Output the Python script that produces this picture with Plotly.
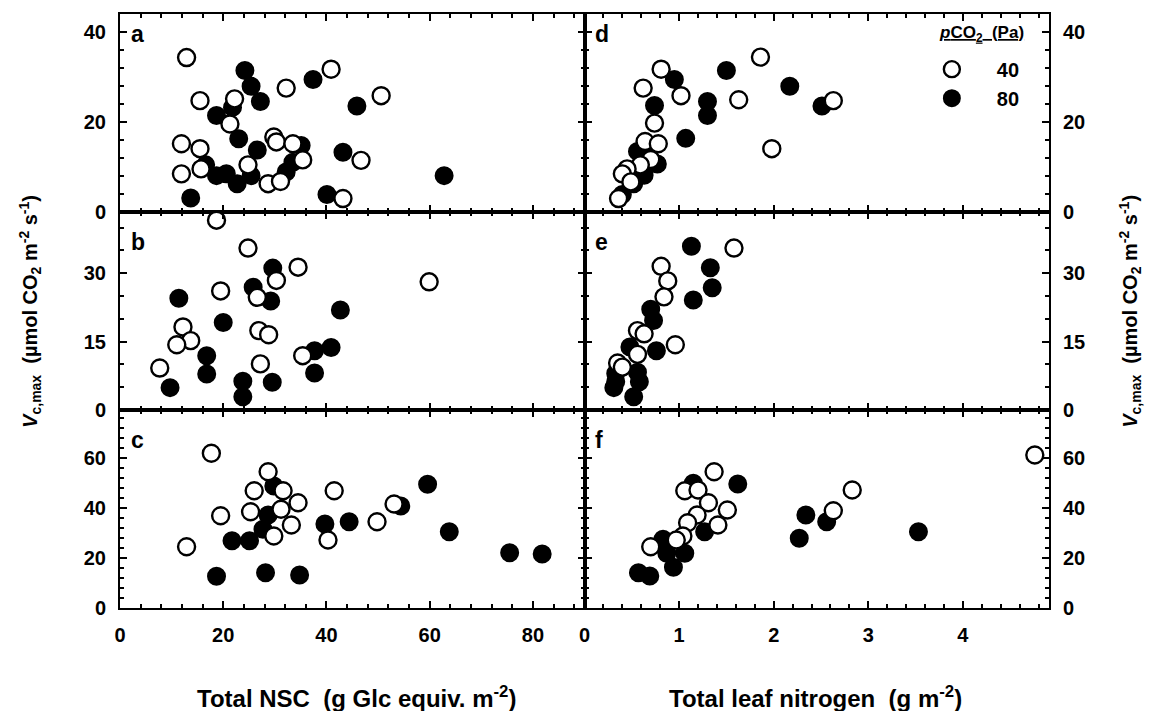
import plotly.graph_objects as go
from plotly.subplots import make_subplots

FONT = "Liberation Sans"

# ---------------- data ----------------
# Panel a: total NSC vs Vc,max
a_open_x = [12.9, 15.5, 22.2, 21.3, 32.2, 40.9, 50.6, 11.9, 15.5, 11.9, 15.7, 24.8, 29.8, 30.3, 33.5, 35.4, 28.7, 31.1, 46.7, 43.2]
a_open_y = [34.4, 24.8, 25.2, 19.6, 27.6, 31.8, 25.9, 15.2, 14.1, 8.5, 9.6, 10.5, 16.7, 15.6, 15.2, 11.6, 6.3, 6.8, 11.5, 3.0]
a_fill_x = [24.2, 25.4, 27.2, 37.4, 45.9, 18.7, 21.8, 23.0, 26.6, 43.2, 16.6, 18.7, 20.6, 22.7, 25.4, 32.2, 33.5, 13.7, 40.1, 62.8, 35.1]
a_fill_y = [31.5, 28.0, 24.6, 29.5, 23.6, 21.5, 23.3, 16.3, 13.8, 13.3, 10.5, 8.1, 8.5, 6.3, 8.1, 8.9, 11.1, 3.1, 3.9, 8.1, 14.8]

# Panel b
b_open_x = [18.7, 24.8, 34.5, 30.3, 19.5, 26.6, 12.2, 13.7, 11.0, 26.9, 28.8, 35.4, 27.2, 7.7, 59.9]
b_open_y = [41.6, 35.5, 31.3, 28.4, 26.1, 24.7, 18.2, 15.2, 14.3, 17.4, 16.5, 11.9, 10.1, 9.2, 28.1]
b_fill_x = [29.6, 25.8, 29.2, 11.4, 20.0, 16.8, 16.8, 9.7, 23.8, 23.8, 29.5, 37.7, 40.9, 37.7, 42.7]
b_fill_y = [31.1, 26.9, 23.9, 24.5, 19.2, 11.9, 7.9, 4.9, 6.3, 2.9, 6.1, 13.0, 13.7, 8.1, 21.9]

# Panel c
c_open_x = [17.7, 28.7, 26.0, 31.6, 41.5, 34.5, 31.2, 25.3, 19.5, 33.2, 29.8, 40.3, 49.8, 53.1, 12.9]
c_open_y = [61.9, 54.5, 46.9, 46.9, 46.9, 42.1, 39.5, 38.5, 36.9, 33.2, 28.8, 27.2, 34.5, 41.6, 24.5]
c_fill_x = [29.8, 54.4, 28.7, 27.7, 21.7, 25.1, 39.7, 44.4, 18.7, 28.2, 34.8, 59.6, 63.8, 75.5, 81.8]
c_fill_y = [48.8, 40.8, 37.2, 31.5, 26.9, 26.9, 33.6, 34.5, 12.7, 14.1, 13.2, 49.5, 30.5, 22.1, 21.6]

# Panel d: total leaf nitrogen vs Vc,max
d_open_x = [1.86, 0.81, 0.62, 1.02, 1.63, 2.63, 0.74, 0.64, 0.78, 1.98, 0.70, 0.59, 0.45, 0.40, 0.49, 0.36]
d_open_y = [34.5, 31.8, 27.6, 25.9, 25.0, 24.8, 19.8, 15.7, 15.2, 14.1, 11.7, 10.5, 9.6, 8.5, 6.7, 3.0]
d_fill_x = [1.50, 0.95, 2.17, 1.30, 1.30, 2.51, 0.74, 1.07, 0.56, 0.77, 0.63, 0.52, 0.40, 0.66, 0.55]
d_fill_y = [31.5, 29.5, 28.0, 24.6, 21.5, 23.6, 23.7, 16.4, 13.5, 10.7, 8.2, 6.3, 3.9, 14.5, 8.9]

# Panel e
e_open_x = [1.58, 0.81, 0.88, 0.84, 0.96, 0.56, 0.63, 0.56, 0.35, 0.40]
e_open_y = [35.5, 31.5, 28.3, 24.8, 14.3, 17.4, 16.7, 12.2, 10.3, 9.4]
e_fill_x = [1.13, 1.33, 1.35, 1.15, 0.70, 0.73, 0.48, 0.76, 0.33, 0.31, 0.56, 0.58, 0.52, 0.33]
e_fill_y = [35.9, 31.2, 26.8, 24.1, 22.1, 19.6, 13.8, 13.0, 8.0, 4.9, 8.3, 6.2, 2.9, 6.2]

# Panel f
f_open_x = [1.37, 1.06, 1.20, 1.31, 1.51, 1.19, 1.09, 1.41, 1.04, 0.97, 0.70, 2.83, 2.63, 4.76]
f_open_y = [54.5, 46.9, 47.2, 42.1, 39.2, 37.2, 34.1, 33.2, 28.8, 27.2, 24.5, 47.2, 38.9, 61.2]
f_fill_x = [1.15, 1.62, 2.34, 2.56, 2.27, 1.27, 0.83, 0.87, 1.06, 0.94, 0.57, 0.69, 3.53]
f_fill_y = [49.9, 49.6, 37.2, 34.5, 27.9, 30.5, 27.5, 21.9, 21.9, 16.3, 14.1, 12.8, 30.5]

panel_letters = ["a", "d", "b", "e", "c", "f"]
x_title_left = "Total NSC  (g Glc equiv. m<sup>-2</sup>)"
x_title_right = "Total leaf nitrogen  (g m<sup>-2</sup>)"
y_title = "<i>V</i><sub>c,max</sub>  (µmol CO<sub>2</sub> m<sup>-2</sup> s<sup>-1</sup>)"
legend_title = "<u><i>p</i>CO<sub>2</sub>  (Pa)</u>"
series_names = ["40", "80"]

# ---------------- figure ----------------
fig = make_subplots(rows=3, cols=2, horizontal_spacing=0, vertical_spacing=0)

panels = [
    (1, 1, a_open_x, a_open_y, a_fill_x, a_fill_y),
    (1, 2, d_open_x, d_open_y, d_fill_x, d_fill_y),
    (2, 1, b_open_x, b_open_y, b_fill_x, b_fill_y),
    (2, 2, e_open_x, e_open_y, e_fill_x, e_fill_y),
    (3, 1, c_open_x, c_open_y, c_fill_x, c_fill_y),
    (3, 2, f_open_x, f_open_y, f_fill_x, f_fill_y),
]

MS = 17
for r, c, ox, oy, fx, fy in panels:
    show = (r == 1 and c == 2)
    fig.add_trace(go.Scatter(x=fx, y=fy, mode="markers", name=series_names[1],
                             showlegend=show, legendrank=2,
                             marker=dict(size=MS, color="black", symbol="circle",
                                         line=dict(color="black", width=2))),
                  row=r, col=c)
    fig.add_trace(go.Scatter(x=ox, y=oy, mode="markers", name=series_names[0],
                             showlegend=show, legendrank=1,
                             marker=dict(size=MS, color="white", symbol="circle",
                                         line=dict(color="black", width=2.4))),
                  row=r, col=c)

tickfont = dict(family=FONT, size=20, color="black", weight="bold")
common = dict(showline=True, linecolor="black", linewidth=2, mirror="ticks",
              ticks="inside", ticklen=7, tickwidth=2, tickcolor="black",
              showgrid=False, zeroline=False, tickfont=tickfont)

y_ranges = {1: [0, 44.1], 2: [0, 43.4], 3: [0, 79.2]}
y_ticks = {1: [0, 20, 40], 2: [0, 15, 30], 3: [0, 20, 40, 60]}
y_minor = {1: 4, 2: 5, 3: 4}

for r in (1, 2, 3):
    for c in (1, 2):
        xr = [0, 90] if c == 1 else [0, 4.91]
        xt = [0, 20, 40, 60, 80] if c == 1 else [0, 1, 2, 3, 4]
        xm = 4 if c == 1 else 0.2
        fig.update_xaxes(range=xr, tickvals=xt, showticklabels=(r == 3),
                         ticklabelstandoff=8,
                         minor=dict(ticks="inside", ticklen=4, tickwidth=1.5,
                                    tickcolor="black", dtick=xm, tick0=0),
                         row=r, col=c, **common)
        fig.update_yaxes(range=y_ranges[r], tickvals=y_ticks[r],
                         side=("left" if c == 1 else "right"),
                         ticklabelstandoff=8,
                         minor=dict(ticks="inside", ticklen=4, tickwidth=1.5,
                                    tickcolor="black", dtick=y_minor[r], tick0=0),
                         row=r, col=c, **common)

# panel letters
letter_pos = {1: 0.90, 2: 0.85, 3: 0.85}
axis_ids = [("x", "y"), ("x2", "y2"), ("x3", "y3"), ("x4", "y4"), ("x5", "y5"), ("x6", "y6")]
for i, (xa, ya) in enumerate(axis_ids):
    r = i // 2 + 1
    fig.add_annotation(text=panel_letters[i], xref=xa + " domain", yref=ya + " domain",
                       x=0.02 if i % 2 == 0 else 0.018, y=letter_pos[r],
                       xanchor="left", yanchor="middle", showarrow=False,
                       font=dict(family=FONT, size=23, color="black", weight="bold"))

# axis titles
xtitle_font = dict(family=FONT, size=24, color="black", weight="bold")
title_font = dict(family=FONT, size=20, color="black", weight="bold")
fig.add_annotation(text=x_title_left, xref="paper", yref="paper", x=0.2545, y=-0.149,
                   xanchor="center", yanchor="middle", showarrow=False, font=xtitle_font)
fig.add_annotation(text=x_title_right, xref="paper", yref="paper", x=0.7490, y=-0.149,
                   xanchor="center", yanchor="middle", showarrow=False, font=xtitle_font)
fig.add_annotation(text=y_title, xref="paper", yref="paper", x=-0.097, y=0.50,
                   textangle=-90, xanchor="center", yanchor="middle", showarrow=False,
                   font=title_font)
fig.add_annotation(text=y_title, xref="paper", yref="paper", x=1.087, y=0.50,
                   textangle=-90, xanchor="center", yanchor="middle", showarrow=False,
                   font=title_font)

# legend heading (pCO2)
fig.add_annotation(text=legend_title, xref="paper", yref="paper", x=0.975, y=0.967,
                   xanchor="right", yanchor="middle", showarrow=False,
                   font=dict(family=FONT, size=17, color="black", weight="bold"))

fig.update_layout(
    width=1151, height=703,
    margin=dict(l=112, r=110, t=4, b=103),
    paper_bgcolor="white", plot_bgcolor="white",
    font=dict(family=FONT, color="black"),
    legend=dict(x=0.847, y=0.94, xanchor="left", yanchor="top",
                bgcolor="rgba(0,0,0,0)", itemwidth=80, tracegroupgap=0,
                font=dict(family=FONT, size=20, color="black", weight="bold")),
)

fig.write_html("out.html")
